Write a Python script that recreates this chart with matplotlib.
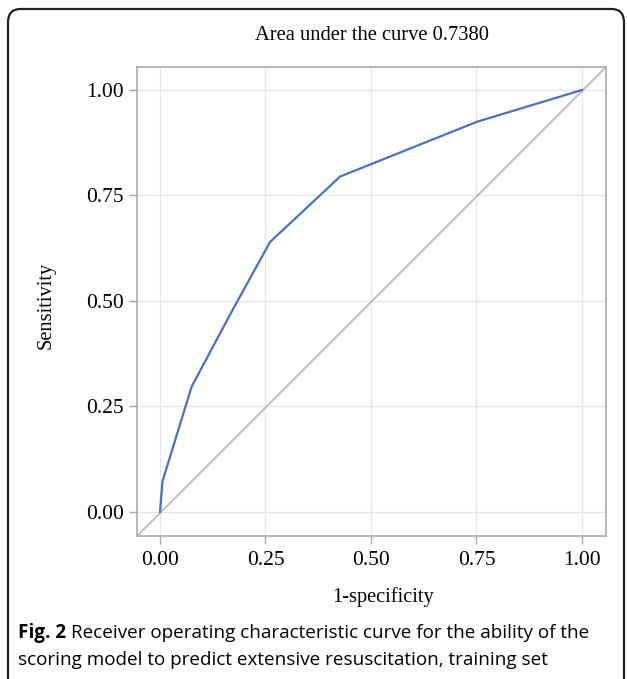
import matplotlib
matplotlib.use("Agg")
import matplotlib.pyplot as plt
from matplotlib.patches import FancyBboxPatch

# ROC curve points
fpr = [0.0, 0.006, 0.075, 0.17, 0.261, 0.427, 0.752, 1.0]
tpr = [0.0, 0.073, 0.297, 0.475, 0.640, 0.795, 0.925, 1.0]
ticks = [0.0, 0.25, 0.50, 0.75, 1.00]
tick_labels = ["0.00", "0.25", "0.50", "0.75", "1.00"]

serif = "Liberation Serif"

fig = plt.figure(figsize=(6.27, 6.79), dpi=100)

# outer rounded frame (bottom runs off the page)
frame = FancyBboxPatch((8 / 627, -0.05), 616 / 627, 1 - 9 / 679 + 0.05,
                       boxstyle="round,pad=0,rounding_size=0.02",
                       transform=fig.transFigure, fill=False,
                       edgecolor="#222222", linewidth=1.6)
fig.patches.append(frame)

ax = fig.add_axes([137 / 627, 1 - 536 / 679, 469 / 627, 469 / 679])
ax.set_xlim(-0.0545, 1.057)
ax.set_ylim(-0.057, 1.0545)

# diagonal reference line corner to corner
ax.plot([0, 1], [0, 1], transform=ax.transAxes, color="#b5b9ba", lw=1.2, zorder=2)
ax.plot(fpr, tpr, color="#4a70c6", lw=1.6, zorder=3)

ax.set_xticks(ticks)
ax.set_yticks(ticks)
ax.set_xticklabels(tick_labels, fontfamily=serif, fontsize=15.5)
ax.set_yticklabels(tick_labels, fontfamily=serif, fontsize=15.5)
ax.grid(True, color="#e6e6e6", lw=1.0)
ax.set_axisbelow(True)
for s in ax.spines.values():
    s.set_color("#a7abb0")
    s.set_linewidth(1.2)
ax.tick_params(length=5.5, width=1.0, color="#a7abb0")
ax.tick_params(axis="y", pad=4)
ax.tick_params(axis="x", pad=5)

fig.text(372 / 627, 1 - 35 / 679, "Area under the curve 0.7380", ha="center", va="center",
         fontfamily=serif, fontsize=14.8)
fig.text(383 / 627, 1 - 597 / 679, "1-specificity", ha="center", va="center",
         fontfamily=serif, fontsize=14.7)
fig.text(46 / 627, 1 - 305 / 679, "Sensitivity", ha="center", va="center", rotation=90,
         fontfamily=serif, fontsize=14.7)

# caption
cap_font = "Open Sans"
t1 = fig.text(18 / 627, 1 - 633 / 679, "Fig. 2", ha="left", va="center",
              fontfamily=cap_font, fontsize=13.6, fontweight="bold")
fig.canvas.draw()
bb = t1.get_window_extent()
fig.text((bb.x1 + 5) / 627, 1 - 633 / 679,
         "Receiver operating characteristic curve for the ability of the",
         ha="left", va="center", fontfamily=cap_font, fontsize=13.6)
fig.text(18 / 627, 1 - 660 / 679,
         "scoring model to predict extensive resuscitation, training set",
         ha="left", va="center", fontfamily=cap_font, fontsize=13.6)

fig.savefig("out.png", dpi=100)
